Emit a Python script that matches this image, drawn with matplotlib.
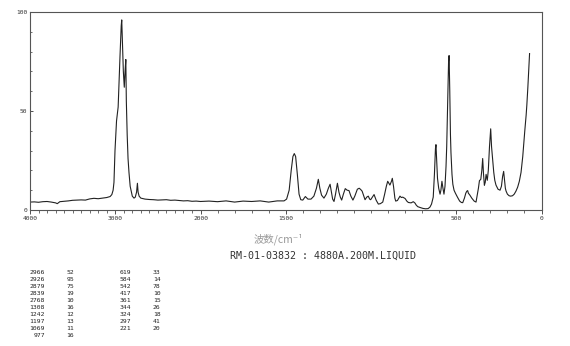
import numpy as np
import matplotlib
matplotlib.use("Agg")
import matplotlib.pyplot as plt
from matplotlib.ticker import FixedLocator

# spectrum (wavenumber cm-1, intensity)
wavenumber = [4000, 3950, 3900, 3850, 3800, 3750, 3700, 3680, 3650, 3600, 3550, 3500,
              3450, 3400, 3350, 3300, 3250, 3200, 3150, 3100, 3060, 3040, 3025, 3015,
              3003, 2985, 2966, 2955, 2944, 2930, 2924, 2918, 2905, 2894, 2885, 2876,
              2870, 2860, 2850, 2839, 2825, 2800, 2780, 2765, 2750, 2740, 2732, 2720,
              2700, 2650, 2600, 2550, 2500, 2450, 2400, 2350, 2300, 2250, 2200, 2150,
              2100, 2050, 2000, 1950, 1900, 1850, 1800, 1750, 1700, 1650, 1600, 1550,
              1510, 1495, 1480, 1468, 1458, 1450, 1442, 1432, 1422, 1412, 1400, 1385,
              1370, 1352, 1335, 1320, 1309, 1300, 1290, 1276, 1262, 1250, 1240, 1232,
              1225, 1217, 1208, 1197, 1188, 1180, 1172, 1162, 1151, 1140, 1129, 1118,
              1106, 1095, 1080, 1069, 1060, 1052, 1042, 1035, 1025, 1016, 1008, 1002,
              992, 982, 970, 957, 945, 931, 920, 910, 902, 889, 880, 875, 868, 860,
              855, 845, 830, 822, 814, 800, 790, 781, 765, 752, 742, 735, 726, 710,
              695, 680, 665, 654, 645, 635, 628, 622, 619, 615, 610, 603, 595, 590,
              584, 578, 572, 566, 560, 556, 550, 545, 542, 538, 534, 531, 525, 520,
              513, 505, 493, 480, 470, 462, 452, 444, 438, 433, 429, 420, 409, 395,
              384, 378, 370, 364, 356, 350, 345, 340, 335, 330, 325, 318, 312, 305,
              298, 293, 287, 280, 274, 267, 255, 243, 235, 228, 222, 217, 212, 208,
              200, 190, 181, 170, 160, 150, 140, 130, 120, 110, 106, 98, 90, 86,
              80, 75, 70]
intensity = [4.0, 4.1, 3.9, 4.2, 4.3, 4.0, 3.6, 3.2, 4.2, 4.4, 4.6, 4.9,
             5.0, 5.1, 5.0, 5.6, 5.9, 5.7, 6.0, 6.3, 6.8, 7.8, 10, 14,
             30, 45, 52, 65, 78, 93, 96, 88, 70, 62, 70, 76,
             55, 38, 26, 19, 12, 7, 6, 6.5, 9, 13.5, 9, 7,
             6, 5.5, 5.3, 5.2, 5.0, 5.1, 5.2, 4.9, 5.0, 4.8, 4.6, 4.7,
             4.4, 4.5, 4.3, 4.5, 4.2, 4.6, 4.0, 4.5, 4.3, 4.6, 4.0, 4.6,
             4.6, 5.5, 10, 20, 27, 28.5, 27, 18, 8, 5.2, 5.0, 6.8,
             5.5, 5.5, 7, 11, 15.5, 11, 7.5, 6, 8, 11, 13, 9,
             5.5, 4.3, 8, 13.5, 9, 6.5, 5, 8, 10.8, 10, 9.8, 7,
             5, 7, 10.5, 11, 10.3, 9.5, 7, 5.2, 6.5, 7, 5.5, 5.2,
             6.5, 7.8, 5, 3, 3.2, 4, 8, 12, 14.5, 12.6, 14.5, 16, 12, 6,
             4.5, 4.8, 7, 6.3, 6.5, 5.8, 4.5, 3.8, 3.6, 4.2, 3.5, 2.5, 1.7, 1.2,
             0.8, 0.6, 0.7, 1.5, 3, 6.5, 18, 31, 33, 25, 16, 11, 8, 10,
             14.5, 11, 8, 12, 22, 32, 55, 75, 78, 60, 38, 29, 18, 13,
             10, 8.5, 6.5, 4.5, 3.8, 3.7, 6, 8.5, 9.5, 9.8, 8.5, 7.5, 6, 4.5,
             4, 7, 11, 14.8, 15.5, 20, 26, 18, 12.5, 14, 18, 15, 20, 32,
             41, 32, 26, 19, 15, 12.6, 10.5, 10, 12, 17, 19.5, 15, 11, 9.6,
             8, 7.2, 7, 7.2, 8, 9.5, 11.5, 14.5, 19, 27, 31.5, 40, 48, 53,
             62, 71, 79]

# peak table printed under the chart
peaks_left = ["2966", "2926", "2879", "2839", "2768", "1308", "1242", "1197", "1069", "977"]
heights_left = ["52", "95", "75", "19", "10", "16", "12", "13", "11", "16"]
peaks_right = ["619", "584", "542", "417", "361", "344", "324", "297", "221"]
heights_right = ["33", "14", "78", "10", "15", "26", "18", "41", "20"]

major_ticks = [4000, 3000, 2000, 1500, 500, 0]


# axis is compressed by half above 2000 cm-1
def fwd(w):
    w = np.asarray(w, dtype=float)
    return np.where(w <= 2000, w, 2000 + (w - 2000) / 2)


def inv(t):
    t = np.asarray(t, dtype=float)
    return np.where(t <= 2000, t, 2000 + (t - 2000) * 2)


fig = plt.figure(figsize=(5.7, 3.46), dpi=100)
ax = fig.add_axes([30 / 570, 1 - 210 / 346, 511.5 / 570, 198 / 346])

ax.plot(wavenumber, intensity, color="#222222", lw=0.8)

ax.set_xscale("function", functions=(fwd, inv))
ax.set_xlim(4000, 0)
ax.set_ylim(0, 100)

ax.xaxis.set_major_locator(FixedLocator(major_ticks))
ax.xaxis.set_minor_locator(FixedLocator(list(range(0, 4001, 100))))
ax.set_xticklabels([str(t) for t in major_ticks])
ax.yaxis.set_major_locator(FixedLocator([0, 50, 100]))
ax.yaxis.set_minor_locator(FixedLocator(list(range(0, 101, 10))))

mono = "DejaVu Sans Mono"
ax.tick_params(axis="x", which="major", direction="out", length=3, width=0.6,
               pad=1.5, labelsize=4.5, colors="#333333")
ax.tick_params(axis="x", which="minor", direction="out", length=2, width=0.5,
               colors="#333333")
ax.tick_params(axis="y", which="major", direction="in", length=2.5, width=0.6,
               pad=2, labelsize=4.5, colors="#333333")
ax.tick_params(axis="y", which="minor", direction="in", length=1.5, width=0.5,
               colors="#333333")
for lab in ax.get_xticklabels() + ax.get_yticklabels():
    lab.set_family(mono)

for s in ax.spines.values():
    s.set_color("#555555")
    s.set_linewidth(0.8)

fig.text(278 / 570, 1 - 239 / 346, "波数/cm⁻¹", ha="center", va="center",
         fontsize=7.5, color="#999999", family=["Noto Sans CJK SC", "DejaVu Sans"])
fig.text(230 / 570, 1 - 255.5 / 346, "RM-01-03832 : 4880A.200M.LIQUID",
         ha="left", va="center", fontsize=7.2, color="#333333", family=mono)

row0 = 272.3
step = 7.04
for i in range(len(peaks_left)):
    y = 1 - (row0 + i * step) / 346
    fig.text(45 / 570, y, peaks_left[i], ha="right", va="center", fontsize=4.6,
             family=mono, color="#222222")
    fig.text(66.5 / 570, y, heights_left[i], ha="left", va="center", fontsize=4.6,
             family=mono, color="#222222")
for i in range(len(peaks_right)):
    y = 1 - (row0 + i * step) / 346
    fig.text(131.5 / 570, y, peaks_right[i], ha="right", va="center", fontsize=4.6,
             family=mono, color="#222222")
    fig.text(153 / 570, y, heights_right[i], ha="left", va="center", fontsize=4.6,
             family=mono, color="#222222")

fig.savefig("out.png", dpi=100)
